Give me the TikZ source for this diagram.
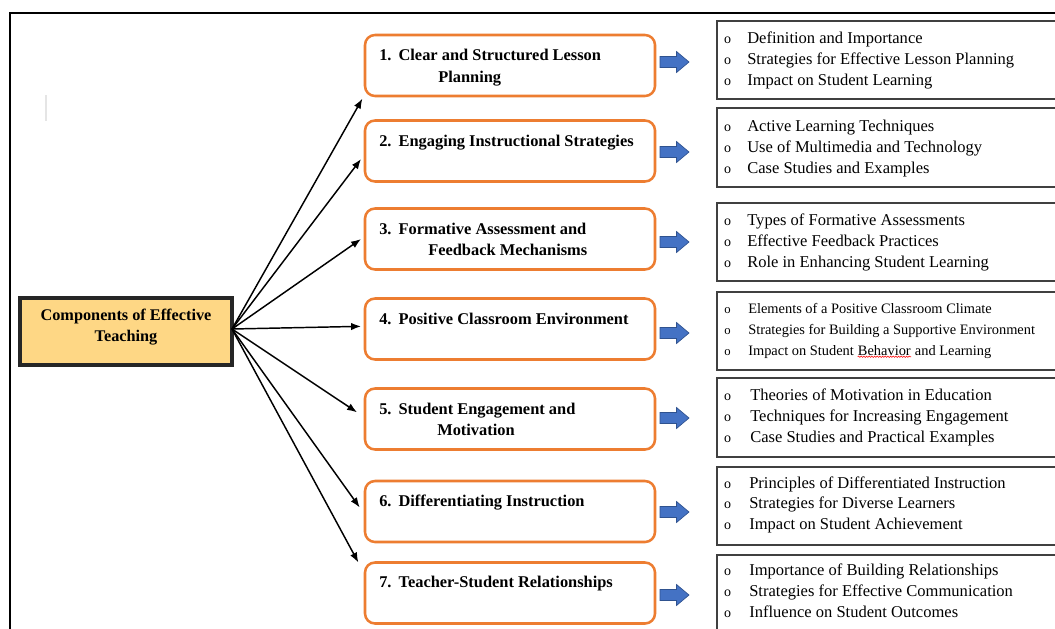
\documentclass[tikz,border=0pt]{standalone}
\usepackage{fontspec}
\setmainfont{Liberation Serif}
\usetikzlibrary{arrows.meta,decorations.pathmorphing}
\definecolor{obord}{HTML}{ED7D31}
\definecolor{bfill}{HTML}{4472C4}
\definecolor{bbord}{HTML}{2F528F}
\definecolor{lfill}{HTML}{FED785}
\definecolor{lbord}{HTML}{262626}
\definecolor{rbord}{HTML}{404040}
\begin{document}
\begin{tikzpicture}[x=0.75pt,y=-0.75pt,
  obox/.style={draw=obord, line width=1.9pt, rounded corners=7.5pt, fill=white, minimum width=217.5pt, minimum height=45.75pt, inner sep=0pt},
  otext/.style={anchor=base west, inner sep=0pt, font=\fontsize{12.3}{14}\selectfont\bfseries},
  rbox/.style={draw=rbord, line width=1.2pt, inner sep=0pt, minimum width=258.75pt},
  rtext/.style={anchor=base west, inner sep=0pt, font=\fontsize{12.4}{14}\selectfont},
  rtexts/.style={anchor=base west, inner sep=0pt, font=\fontsize{10.8}{12}\selectfont},
  bul/.style={anchor=base, inner sep=0pt, font=\fontsize{10.5}{10}\selectfont},
  fatarr/.pic={\draw[fill=bfill, draw=bbord, line width=0.5pt] (-14.5,-5.5) -- (2,-5.5) -- (2,-10.5) -- (14.5,0) -- (2,10.5) -- (2,5.5) -- (-14.5,5.5) -- cycle;},
  conn/.style={-{Latex[length=7.5pt,width=5.6pt]}, line width=1.1pt},
  lbox/.style={draw=lbord, line width=2.3pt, fill=lfill, minimum width=159pt, minimum height=50.25pt, inner sep=0pt}
]
\useasboundingbox (0,0) rectangle (1055,628);
\clip (0,0) rectangle (1055,628);
\fill[white] (0,0) rectangle (1055,628);

% outer frame
\draw[line width=1.9pt] (10,630) -- (10,13) -- (1060,13);
% faint mark
\draw[line width=2.2pt, gray!20] (46,95) -- (46,121);

% central box
\node[lbox] (lb) at (126,331.5) {};
\node[align=center, inner sep=0pt, font=\fontsize{12.2}{15.75}\selectfont\bfseries] (lbt) at (126,327) {Components of Effective\\Teaching};
\coordinate (hub) at (232,329);

% orange boxes
\node[obox] (b1) at (510,65.5) {};
\node[obox] (b2) at (510,151) {};
\node[obox] (b3) at (510,239) {};
\node[obox] (b4) at (510,329) {};
\node[obox] (b5) at (510,419) {};
\node[obox] (b6) at (510,511.5) {};
\node[obox] (b7) at (510,593) {};

\node[otext] (t1a) at (379,60) {\makebox[14.5pt][l]{1.}Clear and Structured Lesson};
\node[otext] (t1b) at (438,82) {Planning};
\node[otext] (t2) at (379,146) {\makebox[14.5pt][l]{2.}Engaging Instructional Strategies};
\node[otext] (t3a) at (379,234) {\makebox[14.5pt][l]{3.}Formative Assessment and};
\node[otext] (t3b) at (428,255) {Feedback Mechanisms};
\node[otext] (t4) at (379,324) {\makebox[14.5pt][l]{4.}Positive Classroom Environment};
\node[otext] (t5a) at (379,414) {\makebox[14.5pt][l]{5.}Student Engagement and};
\node[otext] (t5b) at (437,435) {Motivation};
\node[otext] (t6) at (379,506) {\makebox[14.5pt][l]{6.}Differentiating Instruction};
\node[otext] (t7) at (379,587) {\makebox[14.5pt][l]{7.}Teacher-Student Relationships};

% connectors
\draw[conn] (hub) -- ([xshift=-1pt,yshift=-1pt]b1.south west);
\draw[conn] (hub) -- ([xshift=-2pt,yshift=-6pt]b2.west);
\draw[conn] (hub) -- ([xshift=-2pt]b3.west);
\draw[conn] (hub) -- ([xshift=-2pt,yshift=2pt]b4.west);
\draw[conn] (hub) -- ([xshift=-5pt,yshift=5pt]b5.west);
\draw[conn] (hub) -- ([xshift=-3pt,yshift=3pt]b6.west);
\draw[conn] (hub) -- ([xshift=-4pt,yshift=-1pt]b7.north west);

% blue arrows
\pic (a1) at (674.5,62) {fatarr};
\pic (a2) at (674.5,152) {fatarr};
\pic (a3) at (674.5,242) {fatarr};
\pic (a4) at (674.5,333) {fatarr};
\pic (a5) at (674.5,418) {fatarr};
\pic (a6) at (674.5,512) {fatarr};
\pic (a7) at (674.5,595) {fatarr};

% right boxes
\node[rbox, minimum height=58.5pt] (r1) at (889.5,60) {};
\node[rbox, minimum height=59.25pt] (r2) at (889.5,147.5) {};
\node[rbox, minimum height=58.5pt] (r3) at (889.5,242) {};
\node[rbox, minimum height=58.5pt] (r4) at (889.5,331) {};
\node[rbox, minimum height=59.25pt] (r5) at (889.5,417.5) {};
\node[rbox, minimum height=58.5pt] (r6) at (889.5,506) {};
\node[rbox, minimum height=64.5pt] (r7) at (889.5,598) {};

% bullets
\foreach \y [count=\i] in {43,64,85,131,152,173,225,246,267,400,421,442,488,508,529,575,596,617}
  \node[bul] (o\i) at (727.5,\y) {o};
\foreach \y [count=\i] in {313,334,355}
  \node[bul, font=\fontsize{9.5}{10}\selectfont] (q\i) at (727.5,\y) {o};

% right texts
\node[rtext] (r1a) at (747,43) {Definition and Importance};
\node[rtext] (r1b) at (747,64) {Strategies for Effective Lesson Planning};
\node[rtext] (r1c) at (747,85) {Impact on Student Learning};
\node[rtext] (r2a) at (747,131) {Active Learning Techniques};
\node[rtext] (r2b) at (747,152) {Use of Multimedia and Technology};
\node[rtext] (r2c) at (747,173) {Case Studies and Examples};
\node[rtext] (r3a) at (747,225) {Types of Formative Assessments};
\node[rtext] (r3b) at (747,246) {Effective Feedback Practices};
\node[rtext] (r3c) at (747,267) {Role in Enhancing Student Learning};
\node[rtexts] (r4a) at (748,313) {Elements of a Positive Classroom Climate};
\node[rtexts] (r4b) at (748,334) {Strategies for Building a Supportive Environment};
\node[rtexts] (r4c) at (748,355) {Impact on Student};
\node[rtexts, anchor=base west] (r4d) at ([xshift=2.7pt]r4c.base east) {Behavior};
\node[rtexts, anchor=base west] (r4e) at ([xshift=2.7pt]r4d.base east) {and Learning};
\draw[red, line width=0.4pt, decorate, decoration={snake, amplitude=0.5pt, segment length=2pt}] ([yshift=-1pt]r4d.south west) -- ([yshift=-1pt]r4d.south east);
\node[rtext] (r5a) at (750,400) {Theories of Motivation in Education};
\node[rtext] (r5b) at (750,421) {Techniques for Increasing Engagement};
\node[rtext] (r5c) at (750,442) {Case Studies and Practical Examples};
\node[rtext] (r6a) at (749,488) {Principles of Differentiated Instruction};
\node[rtext] (r6b) at (749,508) {Strategies for Diverse Learners};
\node[rtext] (r6c) at (749,529) {Impact on Student Achievement};
\node[rtext] (r7a) at (749,575) {Importance of Building Relationships};
\node[rtext] (r7b) at (749,596) {Strategies for Effective Communication};
\node[rtext] (r7c) at (749,617) {Influence on Student Outcomes};
\end{tikzpicture}
\end{document}
